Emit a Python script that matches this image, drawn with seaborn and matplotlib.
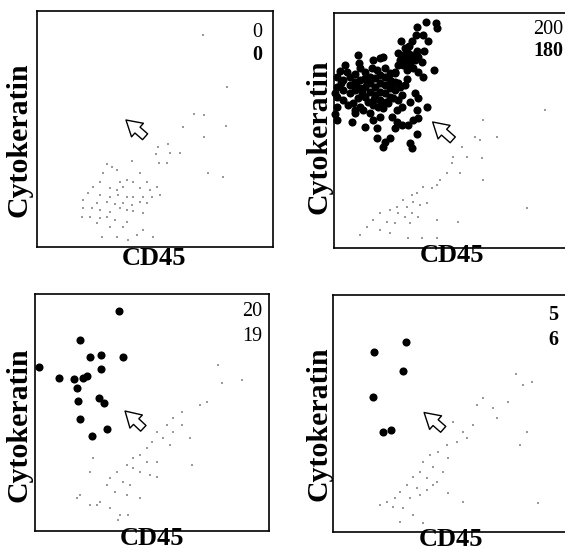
import matplotlib
matplotlib.use("Agg")
import matplotlib.pyplot as plt
import seaborn as sns
import pandas as pd

# ---------------- data (axis units 0-100) ----------------
counts_top = ["0", "200", "20", "5"]
counts_bottom = ["0", "180", "19", "6"]
x_label = "CD45"
y_label = "Cytokeratin"

# panel 1: leukocytes only
p1_grey_x = [70.5, 80.4, 66.7, 70.8, 62.0, 80.1, 70.8, 51.4, 55.6, 50.4, 56.4, 60.6, 51.8, 54.9, 72.6, 78.7,
             40.1, 29.5, 31.6, 28.1, 33.8, 43.6, 46.5, 40.8, 38.0, 35.2, 26.7, 23.9, 30.9, 33.8, 36.6, 43.6,
             47.9, 50.7, 21.8, 26.7, 30.9, 34.5, 38.0, 40.8, 45.1, 48.6, 52.1, 19.6, 25.3, 29.5, 33.1, 36.6,
             40.1, 43.6, 46.5, 19.6, 23.2, 26.7, 30.9, 35.2, 38.0, 40.8, 45.1, 18.9, 22.5, 26.7, 29.5, 33.1,
             38.0, 25.3, 30.9, 36.6, 45.1, 27.4, 33.8, 38.7, 49.3, 42.2]
p1_grey_y = [89.8, 67.7, 56.4, 55.9, 51.0, 51.4, 46.8, 42.5, 43.6, 39.4, 39.7, 40.0, 35.5, 35.5, 31.5, 29.8,
             36.6, 35.0, 34.0, 31.2, 32.6, 31.2, 27.7, 27.7, 28.4, 27.7, 27.7, 25.6, 24.9, 24.2, 25.6, 24.9,
             24.2, 25.6, 22.7, 22.0, 21.3, 22.0, 21.3, 21.3, 21.3, 21.3, 22.0, 19.9, 18.5, 19.2, 18.2, 18.5,
             17.8, 19.2, 18.5, 16.4, 16.4, 15.7, 15.0, 16.4, 15.7, 15.4, 14.3, 12.9, 12.9, 12.1, 12.9, 11.4,
             10.7, 10.0, 8.6, 8.6, 7.2, 4.1, 4.1, 3.0, 4.4, 5.1]
p1_tumor_x = []
p1_tumor_y = []

# panel 2: 200 spiked cells, 180 detected
p2_tumor_x = [39.0, 43.2, 43.8, 35.3, 34.7, 37.9, 28.4, 31.9, 35.3, 35.7,
              27.3, 29.4, 31.5, 33.3, 28.0, 30.1, 32.2, 34.3, 27.3, 29.4, 32.2, 33.6, 30.8, 37.1, 37.9, 42.4, 35.7,
              10.3, 10.7, 11.0, 4.7, 5.4, 16.7, 19.5, 20.9, 16.0, 18.1, 21.6, 23.7, 25.8,
              1.1, 1.1, 1.1, 1.1, 4.0, 4.0, 4.0, 6.8, 6.8, 6.8, 8.9, 8.9, 11.0, 11.0, 13.1, 13.1, 13.1,
              15.3, 15.3, 15.3, 17.4, 17.4, 17.4, 19.5, 19.5, 19.5, 19.5, 21.6, 21.6, 21.6, 23.7, 23.7, 23.7,
              25.8, 25.8, 28.0, 28.7, 30.1, 8.2, 10.3, 14.5, 16.7, 18.8, 20.9, 23.0, 26.6, 27.3, 34.3, 35.7,
              39.3, 35.0, 33.6, 35.7, 24.4, 26.6, 28.7, 31.5, 25.8, 8.9, 7.5, 13.1, 18.1, 18.1, 21.6, 23.7,
              20.9, 32.2, 32.9, 35.3, 1.1, 8.9, 15.3, 19.5, 16.7, 12.4,
              3.0, 9.0, 13.0, 6.0, 11.0, 24.0, 27.0, 31.0, 26.0, 22.0, 25.0, 29.0, 32.0, 38.0, 40.0, 30.0,
              33.0, 0.5, 0.5, 2.5, 14.0, 17.0, 20.0, 9.5, 12.0]
p2_tumor_y = [96.2, 95.9, 93.5, 93.9, 90.6, 90.6, 88.2, 86.0, 84.0, 81.1,
              82.8, 82.1, 82.8, 82.1, 80.0, 80.0, 80.0, 80.0, 77.9, 77.9, 77.9, 76.5, 75.7, 79.3, 72.9, 75.7, 75.0,
              82.1, 78.6, 76.5, 77.9, 75.0, 80.0, 80.7, 81.4, 76.5, 75.7, 76.5, 74.3, 74.3,
              72.9, 68.7, 64.4, 60.1, 71.5, 67.2, 63.0, 72.9, 69.4, 65.8, 70.8, 67.2, 71.5, 67.9, 72.2, 68.7, 64.4,
              72.9, 70.1, 66.5, 72.2, 68.7, 65.1, 73.6, 70.1, 66.5, 63.0, 72.9, 69.4, 65.8, 71.5, 67.9, 64.4,
              70.8, 67.2, 68.7, 65.1, 69.4, 61.6, 63.7, 62.3, 60.9, 60.1, 59.4, 61.6, 58.7, 63.0, 65.8, 63.7,
              60.1, 58.7, 54.5, 55.2, 55.9, 53.8, 52.3, 52.3, 50.9, 57.3, 53.8, 51.6, 50.9, 46.7, 45.2, 46.7,
              43.1, 44.5, 42.4, 48.5, 54.5, 58.7, 57.3, 55.9, 54.5, 58.7,
              70.0, 74.0, 75.0, 61.0, 60.0, 69.0, 70.0, 72.0, 75.0, 62.0, 64.0, 60.0, 62.0, 84.0, 88.0, 85.0,
              88.0, 66.0, 57.0, 75.5, 70.5, 63.5, 61.5, 69.0, 66.0]
p2_grey_x = [63.3, 59.7, 61.9, 68.9, 62.6, 54.1, 50.6, 49.9, 47.7, 44.9, 43.5, 41.4, 37.9, 35.0, 32.9, 29.4,
             33.6, 36.4, 39.3, 30.8, 26.6, 23.7, 27.3, 30.1, 32.9, 35.7, 19.5, 16.7, 22.3, 25.8, 32.2, 43.5,
             52.7, 13.8, 19.5, 23.7, 11.0, 31.5, 37.1, 43.5, 56.2, 53.4, 63.3, 81.6, 89.4]
p2_grey_y = [54.5, 47.4, 46.0, 47.4, 38.2, 43.1, 38.9, 36.0, 31.8, 28.9, 26.8, 25.4, 26.1, 23.3, 22.6, 20.4,
             19.7, 18.3, 19.0, 17.6, 17.6, 16.2, 14.8, 13.3, 14.8, 13.3, 14.8, 11.9, 11.2, 10.5, 10.5, 11.9,
             11.2, 9.1, 7.7, 6.2, 5.5, 4.1, 4.1, 4.1, 38.9, 31.8, 28.9, 16.9, 58.7]

# panel 3: 20 spiked cells, 19 detected
p3_tumor_x = [36.0, 19.2, 23.5, 28.1, 37.7, 1.7, 28.1, 10.3, 16.8, 20.6, 22.1, 17.8, 18.5, 27.4, 29.5,
              19.2, 30.6, 24.4]
p3_tumor_y = [92.8, 80.6, 73.3, 74.3, 73.5, 69.3, 68.2, 64.7, 64.1, 64.7, 65.4, 60.5, 55.0, 56.2, 54.1,
              47.4, 43.2, 40.1]
p3_grey_x = [78.3, 79.8, 88.3, 73.4, 70.5, 62.7, 59.1, 56.3, 52.0, 54.8, 49.9, 57.7, 66.2, 67.0, 47.7,
             44.9, 42.0, 47.7, 52.0, 39.2, 42.0, 44.9, 49.1, 52.0, 34.9, 32.1, 37.7, 40.6, 30.6, 34.2, 39.2,
             44.9, 24.9, 23.5, 19.2, 23.5, 27.8, 32.1, 36.3, 39.9, 35.6, 26.4, 17.8, 59.1, 62.7]
p3_grey_y = [70.0, 62.3, 63.7, 54.6, 53.2, 50.4, 47.5, 44.7, 41.9, 39.1, 37.7, 36.3, 39.1, 27.8, 34.9,
             32.1, 30.7, 29.3, 29.3, 27.8, 26.4, 25.0, 23.6, 22.9, 25.0, 22.2, 20.8, 19.4, 19.4, 16.6, 15.2,
             13.8, 30.7, 25.0, 15.2, 11.0, 12.4, 9.6, 6.8, 6.8, 4.6, 11.0, 13.8, 41.9, 44.7]

# panel 4: 5 spiked cells, 6 detected
p4_tumor_x = [30.8, 17.5, 29.8, 17.1, 21.3, 24.4]
p4_tumor_y = [80.2, 75.9, 68.1, 56.8, 42.3, 43.0]
p4_grey_x = [77.5, 84.2, 63.7, 67.9, 74.3, 60.9, 59.5, 55.2, 51.0, 56.6, 52.4, 48.2, 44.6, 48.9, 41.1,
             38.3, 42.5, 46.8, 36.9, 34.0, 39.7, 43.9, 31.2, 35.5, 39.7, 28.4, 32.6, 36.9, 26.3, 22.7, 19.9,
             25.6, 29.8, 34.0, 38.3, 28.4, 79.2, 82.1, 55.2, 48.9, 42.5, 87.0, 69.4, 80.6]
p4_grey_y = [66.5, 63.4, 56.4, 52.2, 55.0, 53.6, 45.1, 42.3, 46.6, 39.5, 38.1, 36.7, 33.9, 31.1, 32.5,
             29.7, 27.6, 25.5, 25.5, 23.3, 22.6, 21.2, 19.8, 18.4, 17.7, 17.0, 14.2, 15.6, 14.2, 12.8, 11.4,
             10.7, 10.0, 7.2, 3.7, 4.4, 36.7, 42.3, 12.8, 16.3, 19.8, 12.1, 48.0, 62.0]

# ---------------- style ----------------
sns.set_style("white")
plt.rcParams['font.family'] = ['Liberation Serif', 'DejaVu Serif']
plt.rcParams['text.color'] = 'black'
plt.rcParams['axes.labelcolor'] = 'black'

fig = plt.figure(figsize=(5.65, 5.56), dpi=100)

panels = [
    dict(pos=[0.0655, 0.5558, 0.4177, 0.4245], gx=p1_grey_x, gy=p1_grey_y, tx=p1_tumor_x, ty=p1_tumor_y,
         arrow=((45.8, 46.7), (37.7, 53.8)), num_x=0.953, num_y=(0.909, 0.814), weights=("normal", "bold"),
         ylab=(-0.017, 0.453), xlab=(0.494, 0.0)),
    dict(pos=[0.5912, 0.5540, 0.4177, 0.4227], gx=p2_grey_x, gy=p2_grey_y, tx=p2_tumor_x, ty=p2_tumor_y,
         arrow=((50.3, 46.0), (41.8, 53.6)), num_x=0.97, num_y=(0.93, 0.838), weights=("normal", "bold"),
         ylab=(-0.008, 0.472), xlab=(0.5, 0.017)),
    dict(pos=[0.0619, 0.0450, 0.4142, 0.4263], gx=p3_grey_x, gy=p3_grey_y, tx=p3_tumor_x, ty=p3_tumor_y,
         arrow=((46.3, 43.3), (38.5, 50.6)), num_x=0.97, num_y=(0.926, 0.821), weights=("normal", "normal"),
         ylab=(-0.009, 0.447), xlab=(0.5, 0.017)),
    dict(pos=[0.5894, 0.0432, 0.4177, 0.4263], gx=p4_grey_x, gy=p4_grey_y, tx=p4_tumor_x, ty=p4_tumor_y,
         arrow=((46.7, 43.3), (38.6, 50.4)), num_x=0.953, num_y=(0.916, 0.81), weights=("bold", "bold"),
         ylab=(-0.004, 0.458), xlab=(0.5, 0.017)),
]

for i, p in enumerate(panels):
    ax = fig.add_axes(p["pos"])
    grey_df = pd.DataFrame({"CD45": p["gx"], "CK": p["gy"]})
    sns.scatterplot(data=grey_df, x="CD45", y="CK", ax=ax, s=2.2, color="#9a9a9a",
                    linewidth=0, marker="s", legend=False, zorder=1)
    if len(p["tx"]):
        tumor_df = pd.DataFrame({"CD45": p["tx"], "CK": p["ty"]})
        sns.scatterplot(data=tumor_df, x="CD45", y="CK", ax=ax, s=34, color="black",
                        linewidth=0, legend=False, zorder=4, clip_on=False)
    ax.set_xlim(0, 100)
    ax.set_ylim(0, 100)
    ax.set_xticks([])
    ax.set_yticks([])
    for sp in ax.spines.values():
        sp.set_visible(True)
        sp.set_color("black")
        sp.set_linewidth(1.2)

    ax.set_xlabel(x_label, fontsize=19, fontweight="bold", va="top", color="black")
    ax.xaxis.set_label_coords(*p["xlab"])
    ax.set_ylabel(y_label, fontsize=21.5, fontweight="bold", color="black")
    ax.yaxis.set_label_coords(*p["ylab"])

    tail, head = p["arrow"]
    ax.annotate("", xy=head, xytext=tail,
                arrowprops=dict(arrowstyle="simple,head_length=0.55,head_width=0.65,tail_width=0.28",
                                fc="white", ec="black", lw=1.0, mutation_scale=20,
                                shrinkA=0, shrinkB=0))

    ax.text(p["num_x"], p["num_y"][0], counts_top[i], transform=ax.transAxes, ha="right",
            va="center", fontsize=14.5, fontweight=p["weights"][0], color="black")
    ax.text(p["num_x"], p["num_y"][1], counts_bottom[i], transform=ax.transAxes, ha="right",
            va="center", fontsize=14.5, fontweight=p["weights"][1], color="black")

fig.savefig("out.png", dpi=100)
